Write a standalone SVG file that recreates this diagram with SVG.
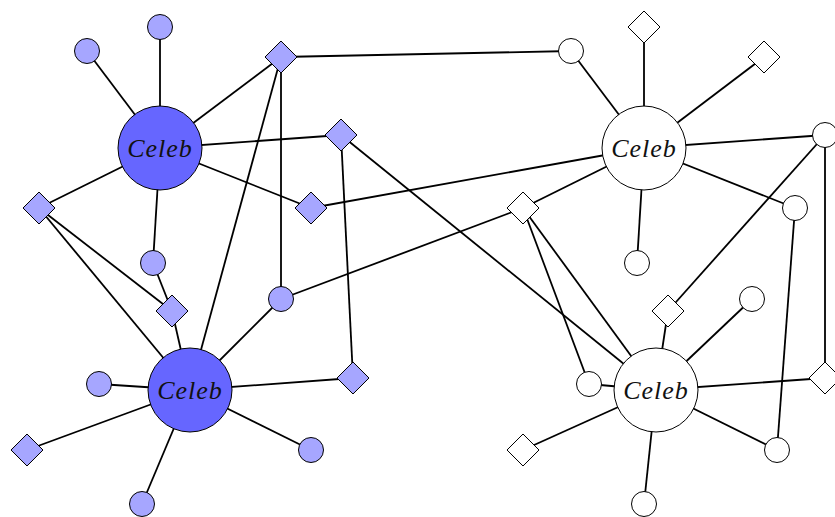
<svg xmlns="http://www.w3.org/2000/svg" width="835" height="517" viewBox="0 0 835 517">
<style>
.e{stroke:#000;stroke-width:1.8;fill:none}
.c{stroke:#000;stroke-width:1;}
.b{fill:#6666ff}
.s{fill:#a6a6ff}
.w{fill:#fff}
.t{font-family:"Liberation Serif",serif;font-style:italic;font-size:26px;letter-spacing:1px;text-anchor:middle;fill:#111}
</style>
<defs>
<circle id="sc" r="12.5"/>
<path id="dm" d="M0,-16L16,0L0,16L-16,0Z"/>
</defs>
<rect width="835" height="517" fill="#fff"/>
<g id="connectors" class="e">
<line x1="160" y1="148" x2="160" y2="27"/>
<line x1="160" y1="148" x2="87" y2="51"/>
<line x1="160" y1="148" x2="281" y2="57"/>
<line x1="160" y1="148" x2="341" y2="135"/>
<line x1="160" y1="148" x2="311" y2="208"/>
<line x1="160" y1="148" x2="39" y2="208"/>
<line x1="160" y1="148" x2="153" y2="263"/>
<line x1="153" y1="263" x2="172" y2="311"/>
<line x1="172" y1="311" x2="190" y2="390"/>
<line x1="39" y1="208" x2="172" y2="311"/>
<line x1="39" y1="208" x2="190" y2="390"/>
<line x1="190" y1="390" x2="281" y2="57"/>
<line x1="190" y1="390" x2="281" y2="299"/>
<line x1="190" y1="390" x2="99" y2="384"/>
<line x1="190" y1="390" x2="353" y2="378"/>
<line x1="190" y1="390" x2="27" y2="450"/>
<line x1="190" y1="390" x2="311" y2="450"/>
<line x1="190" y1="390" x2="142" y2="504"/>
<line x1="281" y1="57" x2="281" y2="299"/>
<line x1="281" y1="57" x2="571" y2="51"/>
<line x1="341" y1="135" x2="353" y2="378"/>
<line x1="341" y1="135" x2="656" y2="390"/>
<line x1="311" y1="208" x2="644" y2="148"/>
<line x1="281" y1="299" x2="523" y2="208"/>
<line x1="523" y1="208" x2="644" y2="148"/>
<line x1="523" y1="208" x2="589" y2="384"/>
<line x1="523" y1="208" x2="656" y2="390"/>
<line x1="644" y1="148" x2="571" y2="51"/>
<line x1="644" y1="148" x2="644" y2="27"/>
<line x1="644" y1="148" x2="764" y2="57"/>
<line x1="644" y1="148" x2="825" y2="135"/>
<line x1="644" y1="148" x2="795" y2="208"/>
<line x1="644" y1="148" x2="637" y2="263"/>
<line x1="825" y1="135" x2="668" y2="311"/>
<line x1="825" y1="135" x2="825" y2="378"/>
<line x1="795" y1="208" x2="777" y2="450"/>
<line x1="656" y1="390" x2="668" y2="311"/>
<line x1="656" y1="390" x2="752" y2="299"/>
<line x1="656" y1="390" x2="589" y2="384"/>
<line x1="656" y1="390" x2="825" y2="378"/>
<line x1="656" y1="390" x2="523" y2="450"/>
<line x1="656" y1="390" x2="777" y2="450"/>
<line x1="656" y1="390" x2="644" y2="504"/>
</g>
<g id="celeb1"><circle class="c b" cx="160" cy="148" r="42"/><text class="t" x="160" y="157">Celeb</text></g>
<g id="celeb2"><circle class="c b" cx="190" cy="390" r="42"/><text class="t" x="190" y="399">Celeb</text></g>
<g id="celeb3"><circle class="c w" cx="644" cy="148" r="42"/><text class="t" x="644" y="157">Celeb</text></g>
<g id="celeb4"><circle class="c w" cx="656" cy="390" r="42"/><text class="t" x="656" y="399">Celeb</text></g>
<g id="n1"><use href="#sc" class="c s" x="160" y="27"/></g>
<g id="n2"><use href="#sc" class="c s" x="87" y="51"/></g>
<g id="n3"><use href="#dm" class="c s" x="281" y="57"/></g>
<g id="n4"><use href="#dm" class="c s" x="341" y="135"/></g>
<g id="n5"><use href="#dm" class="c s" x="311" y="208"/></g>
<g id="n6"><use href="#dm" class="c s" x="39" y="208"/></g>
<g id="n7"><use href="#sc" class="c s" x="153" y="263"/></g>
<g id="n8"><use href="#dm" class="c s" x="172" y="311"/></g>
<g id="n9"><use href="#sc" class="c s" x="281" y="299"/></g>
<g id="n10"><use href="#sc" class="c s" x="99" y="384"/></g>
<g id="n11"><use href="#dm" class="c s" x="353" y="378"/></g>
<g id="n12"><use href="#dm" class="c s" x="27" y="450"/></g>
<g id="n13"><use href="#sc" class="c s" x="311" y="450"/></g>
<g id="n14"><use href="#sc" class="c s" x="142" y="504"/></g>
<g id="n15"><use href="#sc" class="c w" x="571" y="51"/></g>
<g id="n16"><use href="#dm" class="c w" x="644" y="27"/></g>
<g id="n17"><use href="#dm" class="c w" x="764" y="57"/></g>
<g id="n18"><use href="#sc" class="c w" x="825" y="135"/></g>
<g id="n19"><use href="#dm" class="c w" x="523" y="208"/></g>
<g id="n20"><use href="#sc" class="c w" x="795" y="208"/></g>
<g id="n21"><use href="#sc" class="c w" x="637" y="263"/></g>
<g id="n22"><use href="#dm" class="c w" x="668" y="311"/></g>
<g id="n23"><use href="#sc" class="c w" x="752" y="299"/></g>
<g id="n24"><use href="#sc" class="c w" x="589" y="384"/></g>
<g id="n25"><use href="#dm" class="c w" x="825" y="378"/></g>
<g id="n26"><use href="#dm" class="c w" x="523" y="450"/></g>
<g id="n27"><use href="#sc" class="c w" x="777" y="450"/></g>
<g id="n28"><use href="#sc" class="c w" x="644" y="504"/></g>
</svg>
